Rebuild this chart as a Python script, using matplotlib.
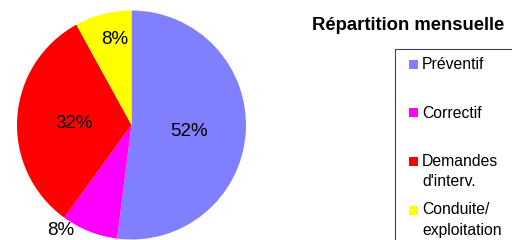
import matplotlib
matplotlib.use("Agg")
import matplotlib.pyplot as plt
import matplotlib.transforms as mtransforms
from matplotlib.patches import Rectangle

plt.rcParams['font.family'] = ['Liberation Sans', 'DejaVu Sans']

categories = ["Préventif", "Correctif", "Demandes\nd'interv.", "Conduite/\nexploitation"]
values = [52, 8, 32, 8]
colors = ["#8080FF", "#FF00FF", "#FF0000", "#FFFF00"]
title = "Répartition mensuelle"

W, H = 512, 240
fig = plt.figure(figsize=(W / 100, H / 100), dpi=100)

# pie axes: centre (131.5, 125) px, radius 114.5 px
cx, cy, r = 131.5, 125, 114.5
ax = fig.add_axes([(cx - r) / W, (H - cy - r) / H, 2 * r / W, 2 * r / H])
wedges, texts, autotexts = ax.pie(values, colors=colors, startangle=90, counterclock=False,
                                  autopct='%1.0f%%', pctdistance=0.5,
                                  wedgeprops=dict(linewidth=0),
                                  textprops=dict(fontsize=13.5, color='black'))
ax.set_xlim(-1, 1)
ax.set_ylim(-1, 1)
ax.set_aspect('auto')

# move the small labels like the original
autotexts[1].set_position((-0.62, -0.9))
autotexts[3].set_position((-0.15, 0.77))
shift = mtransforms.ScaledTranslation(0, -2.5 / 100, fig.dpi_scale_trans)
for t in autotexts:
    t.set_clip_on(False)
    t.set_transform(t.get_transform() + shift)

# title
fig.text(408 / W, 1 - 26 / H, title, fontsize=13.3, fontweight='bold',
         ha='center', va='center')

# legend box
box = Rectangle((395 / W, -0.1), 0.5, 1 - 49 / H + 0.1, transform=fig.transFigure,
                fill=False, edgecolor='#444444', linewidth=0.8)
fig.patches.append(box)

ys = [64.5, 113, 161.5, 210]
for lab, col, y in zip(categories, colors, ys):
    fig.patches.append(Rectangle((409 / W, 1 - (y + 4.5) / H), 9 / W, 9 / H,
                                 transform=fig.transFigure, facecolor=col, edgecolor='none'))
    fig.text(422 / W, 1 - (y - 7.5) / H, lab, fontsize=11.3, ha='left', va='top',
             linespacing=1.45)

fig.savefig("out.png", dpi=100)
